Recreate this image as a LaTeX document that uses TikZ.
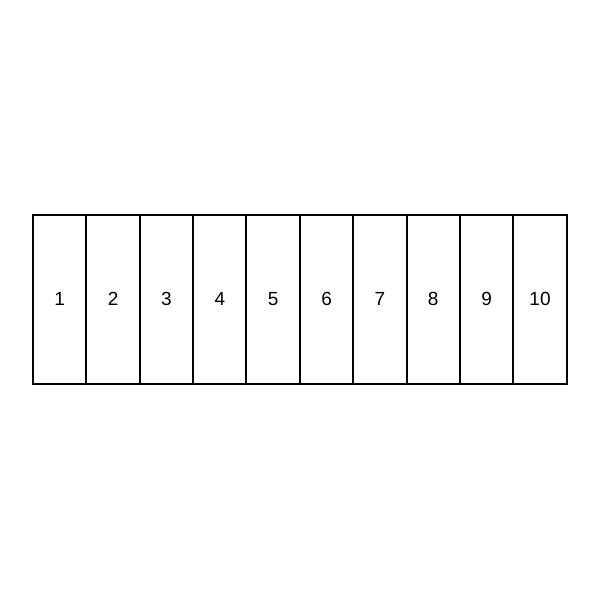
\documentclass[tikz,border=0pt]{standalone}
\usepackage{fontspec}
\setmainfont{Liberation Sans}
\begin{document}
\begin{tikzpicture}[x=1pt,y=-1pt,
  cell/.style={draw=black, line width=2pt, minimum width=53.37pt, minimum height=169.5pt, inner sep=0pt, outer sep=0pt, font=\fontsize{19}{22}\selectfont, anchor=north west}]
\useasboundingbox (0,0) rectangle (600,600);
\foreach \i in {1,...,10} {
  \node[cell] (c\i) at ({33+53.37*(\i-1)},214.5) {\i};
}
\end{tikzpicture}
\end{document}
